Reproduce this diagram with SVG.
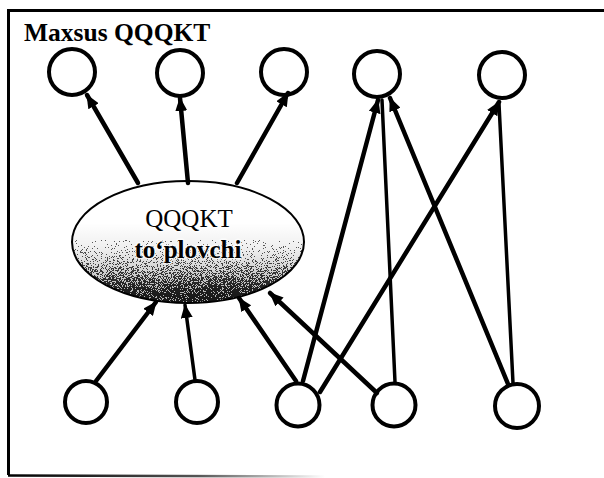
<svg xmlns="http://www.w3.org/2000/svg" width="604" height="478" viewBox="0 0 604 478">
<defs>
<style>
.node{fill:none;stroke:#000;stroke-width:4}
.conn{stroke:#000;stroke-width:4.5;fill:none;stroke-linecap:round}
.thin{stroke-width:3.5}
.frame{stroke:#000;stroke-width:3;fill:none}
.title{font-family:"Liberation Serif","Times New Roman",serif;font-weight:bold;font-size:25.5px;fill:#000}
.lbl{font-family:"Liberation Serif","Times New Roman",serif;font-size:25px;fill:#000;text-anchor:middle;stroke:#fff;stroke-width:3;stroke-opacity:0.7;paint-order:stroke;stroke-linejoin:round}
</style>
<marker id="arr" viewBox="0 0 14 12" refX="13" refY="6" markerWidth="14" markerHeight="12" markerUnits="userSpaceOnUse" orient="auto">
<path d="M0,0 L14,6 L0,12 Z" fill="#000"/>
</marker>
<linearGradient id="eg" x1="0" y1="0" x2="0" y2="1">
<stop offset="0" stop-color="#fff"/>
<stop offset="0.35" stop-color="#fff"/>
<stop offset="0.55" stop-color="#d8d8d8"/>
<stop offset="0.75" stop-color="#8a8a8a"/>
<stop offset="0.9" stop-color="#4a4a4a"/>
<stop offset="1" stop-color="#3a3a3a"/>
</linearGradient>
<linearGradient id="bf" x1="0" y1="0" x2="1" y2="0">
<stop offset="0" stop-color="#000"/>
<stop offset="0.6" stop-color="#555"/>
<stop offset="1" stop-color="#fff"/>
</linearGradient>
<filter id="grain" x="0" y="0" width="1" height="1" color-interpolation-filters="sRGB">
<feTurbulence type="fractalNoise" baseFrequency="1.2" numOctaves="2" seed="7" result="n"/>
<feColorMatrix in="n" type="matrix" values="1 0 0 0 0  1 0 0 0 0  1 0 0 0 0  0 0 0 0 1" result="n2"/>
<feComponentTransfer in="n2" result="n3">
<feFuncR type="linear" slope="2.5" intercept="-0.75"/>
<feFuncG type="linear" slope="2.5" intercept="-0.75"/>
<feFuncB type="linear" slope="2.5" intercept="-0.75"/>
</feComponentTransfer>
<feComposite in="SourceGraphic" in2="n3" operator="arithmetic" k1="0" k2="1" k3="0.8" k4="-0.4" result="s"/>
<feComponentTransfer in="s" result="t">
<feFuncR type="discrete" tableValues="0 1"/>
<feFuncG type="discrete" tableValues="0 1"/>
<feFuncB type="discrete" tableValues="0 1"/>
</feComponentTransfer>
<feComposite in="t" in2="SourceAlpha" operator="in"/>
</filter>
</defs>
<rect width="604" height="478" fill="#fff"/>
<g id="frame">
<path class="frame" d="M8.5,475 L8.5,10.5 L604,10.5"/>
<line x1="8" y1="475.5" x2="325" y2="476.5" stroke="url(#bf)" stroke-width="2.5"/>
<text class="title" x="24" y="41">Maxsus QQQKT</text>
</g>
<g id="hub">
<ellipse cx="188" cy="242" rx="116" ry="61" fill="url(#eg)"/>
<ellipse cx="188" cy="242" rx="116" ry="61" fill="url(#eg)" filter="url(#grain)" opacity="0.6"/>
<ellipse cx="188" cy="242" rx="116" ry="61" fill="none" stroke="#000" stroke-width="2"/>
<text class="lbl" x="189" y="227">QQQKT</text>
<text class="lbl" x="188" y="258" font-weight="bold">to‘plovchi</text>
</g>
<g id="top1"><circle class="node" cx="72" cy="72" r="23"/></g>
<g id="top2"><circle class="node" cx="180" cy="73" r="23"/></g>
<g id="top3"><circle class="node" cx="284" cy="72" r="23"/></g>
<g id="top4"><circle class="node" cx="377" cy="74" r="23"/></g>
<g id="top5"><circle class="node" cx="502" cy="75" r="23"/></g>
<g id="bot1"><circle class="node" cx="86" cy="402" r="21"/></g>
<g id="bot2"><circle class="node" cx="197" cy="402" r="21"/></g>
<g id="bot3"><circle class="node" cx="298" cy="405" r="21.5"/></g>
<g id="bot4"><circle class="node" cx="394" cy="405" r="21.5"/></g>
<g id="bot5"><circle class="node" cx="517" cy="406" r="22"/></g>
<g id="connectors">
<line class="conn" x1="138" y1="183" x2="87" y2="95" marker-end="url(#arr)"/>
<line class="conn" x1="188" y1="183" x2="180" y2="98" marker-end="url(#arr)"/>
<line class="conn" x1="237" y1="183" x2="288" y2="93" marker-end="url(#arr)"/>
<line class="conn" x1="96" y1="381" x2="156" y2="302" marker-end="url(#arr)"/>
<line class="conn thin" x1="195" y1="380" x2="185" y2="305" marker-end="url(#arr)"/>
<line class="conn" x1="296" y1="381" x2="239" y2="298" marker-end="url(#arr)"/>
<line class="conn" x1="377" y1="393" x2="270" y2="293" marker-end="url(#arr)"/>
<line class="conn" x1="303" y1="381" x2="378" y2="100" marker-end="url(#arr)"/>
<line class="conn thin" x1="395" y1="382" x2="382" y2="100"/>
<line class="conn" x1="508" y1="384" x2="390" y2="98" marker-end="url(#arr)"/>
<line class="conn" x1="320" y1="392" x2="499" y2="102" marker-end="url(#arr)"/>
<line class="conn thin" x1="513" y1="383" x2="499" y2="104"/>
</g>
</svg>
